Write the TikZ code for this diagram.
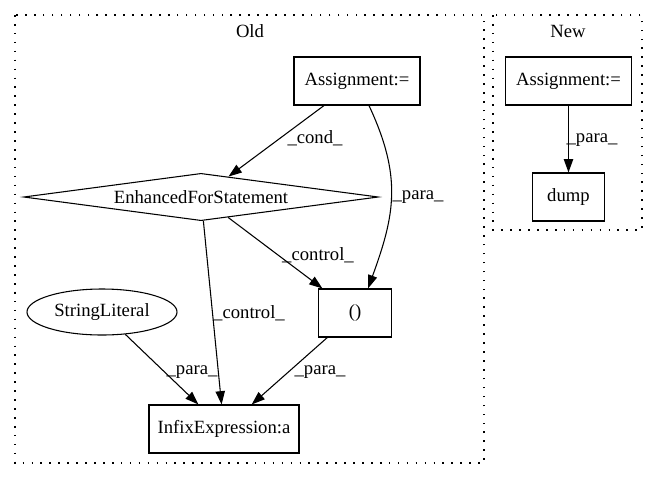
\documentclass[tikz,border=0pt]{standalone}
\usepackage{fontspec}
\setmainfont{Liberation Serif}
\usetikzlibrary{shapes.geometric,arrows.meta}
\begin{document}
\begin{tikzpicture}[x=0.75pt,y=-0.75pt,
  every node/.style={font=\fontsize{14pt}{16pt}\selectfont},
  box/.style={draw,line width=0.8pt,rectangle,minimum height=36pt,inner sep=0pt},
  edge/.style={line width=0.8pt,-{Triangle[length=10pt,width=7pt]}},
  lbl/.style={inner sep=0pt},
  cluster/.style={draw,line width=0.8pt,dash pattern=on 1.2pt off 5.5pt}]
\useasboundingbox (0,0) rectangle (657,480);
% clusters
\draw[cluster] (15,15) rectangle (484,463);
\draw[cluster] (493,15) rectangle (642,230);
\node[lbl] (oldlbl) at (250,31) {Old};
\node[lbl] (newlbl) at (568,31) {New};
% Old nodes
\node[box,minimum width=94.5pt] (oa) at (357,81) {Assignment:=};
\node[draw,line width=0.8pt,diamond,aspect=7.55,minimum width=266pt,minimum height=35.5pt,inner sep=0pt] (efs) at (201,197) {EnhancedForStatement};
\node[draw,line width=0.8pt,ellipse,minimum width=112.5pt,minimum height=34.5pt,inner sep=0pt] (sl) at (102,312) {StringLiteral};
\node[box,minimum width=54.75pt] (paren) at (355,313) {()};
\node[box,minimum width=112.5pt] (infix) at (224,429) {InfixExpression:a};
% New nodes
\node[box,minimum width=94.5pt] (na) at (568.5,81) {Assignment:=};
\node[box,minimum width=54pt] (dump) at (568.5,197) {dump};
% edges
\draw[edge] (oa) -- (efs) node[lbl] at (315,138) {\_cond\_};
\draw[edge] ([xshift=9pt]oa.south) to[out=-65,in=70,looseness=1.1] ([xshift=9.75pt]paren.north) node[lbl] at (418,197) {\_para\_};
\draw[edge] (efs) -- (paren) node[lbl] at (318,255) {\_control\_};
\draw[edge] (efs) -- (infix) node[lbl] at (249,313) {\_control\_};
\draw[edge] (sl) -- (infix) node[lbl] at (192,372) {\_para\_};
\draw[edge] (paren) -- (infix) node[lbl] at (320,372) {\_para\_};
\draw[edge] (na) -- (dump) node[lbl] at (592,140) {\_para\_};
\end{tikzpicture}
\end{document}
